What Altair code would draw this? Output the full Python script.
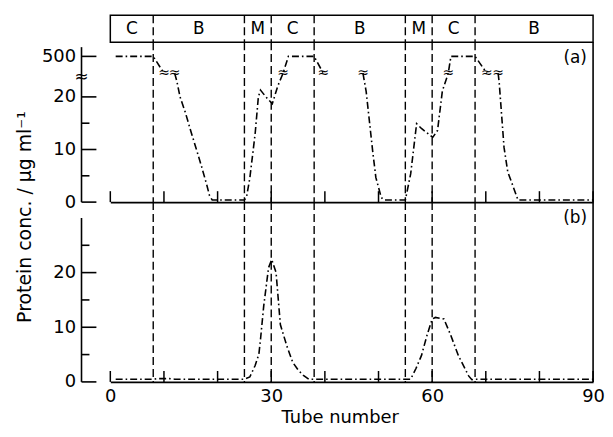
import altair as alt
import pandas as pd

FONT = "DejaVu Sans"

# ---- section map along the tube axis ----
section_labels = ["C", "B", "M", "C", "B", "M", "C", "B"]
section_start = [0, 8, 25, 30, 38, 55, 60, 68]
section_end = [8, 25, 30, 38, 55, 60, 68, 90]
boundary_tubes = [8, 25, 30, 38, 55, 60, 68]
x_tick_tubes = [0, 10, 20, 30, 40, 50, 60, 70, 80, 90]
x_label_tubes = [0, 30, 60, 90]

# ---- panel (a): 500 = top plateau, 30 = off-scale point (drawn as ≈ on the broken axis) ----
tube_a = [1, 8, 10,
          12, 12.4, 13, 14, 15, 16, 17, 18, 18.5, 19, 20, 21, 22, 23, 24, 25,
          25.4, 26, 27, 27.6, 28, 29, 30.2, 31.2, 32.2, 33.2, 38, 39.7,
          47.1, 47.7, 48.9, 49.5, 50.5, 51, 52, 53, 54, 55, 56, 57.1, 58, 59,
          60.1, 61, 61.9, 63, 63.5, 68, 70.2,
          72.3, 72.5, 73.4, 74.1, 74.8, 76, 77, 78, 79, 80, 81, 82, 83, 84,
          85, 86, 87, 88, 89, 90]
conc_a = [500, 500, 30,
          30, 23, 20, 17, 13.5, 10.2, 6.8, 3.2, 1.2, 0.4, 0.4, 0.4, 0.4, 0.4, 0.4, 0.4,
          1, 4.5, 13, 20, 21.3, 20, 18.7, 22, 30, 500, 500, 30,
          30, 21, 9.8, 4.7, 0.9, 0.4, 0.4, 0.4, 0.4, 0.4, 5.4, 14.9, 14, 13.2,
          12.3, 13.6, 21.1, 30, 500, 500, 30,
          30, 22.7, 10.4, 5.7, 3.8, 0.4, 0.4, 0.4, 0.4, 0.4, 0.4, 0.4, 0.4, 0.4,
          0.4, 0.4, 0.4, 0.4, 0.4, 0.4]
segment_a = [1, 1, 1,
             2, 2, 2, 2, 2, 2, 2, 2, 2, 2, 2, 2, 2, 2, 2, 2,
             2, 2, 2, 2, 2, 2, 2, 2, 2, 2, 2, 2,
             3, 3, 3, 3, 3, 3, 3, 3, 3, 3, 3, 3, 3, 3,
             3, 3, 3, 3, 3, 3, 3,
             4, 4, 4, 4, 4, 4, 4, 4, 4, 4, 4, 4, 4, 4,
             4, 4, 4, 4, 4, 4]

# ---- panel (b) ----
tube_b = [1, 2, 3, 4, 5, 6, 7, 8, 9, 10, 11, 12, 13, 14, 15, 16, 17, 18, 19, 20,
          21, 22, 23, 24, 25, 26, 27, 27.7, 28, 28.6, 29.5, 30.1, 30.9, 31.7, 32.9,
          34, 35, 36, 37, 38, 39, 40, 41, 42, 43, 44, 45, 46, 47, 48, 49, 50, 51,
          52, 53, 54, 55, 56, 57, 58, 59, 60, 60.6, 62.2, 63.4, 64.9, 66.8, 67.4,
          68, 69, 70, 71, 72, 73, 74, 75, 76, 77, 78, 79, 80, 81, 82, 83, 84, 85,
          86, 87, 88, 89, 90]
conc_b = [0.5, 0.5, 0.5, 0.5, 0.5, 0.5, 0.5, 0.5, 0.6, 0.6, 0.6, 0.5, 0.5, 0.5, 0.5, 0.5, 0.5, 0.5, 0.5, 0.5,
          0.5, 0.5, 0.5, 0.5, 0.5, 0.9, 3, 5.1, 7.8, 13.9, 20.9, 22.4, 20, 10.5, 6.6,
          3.6, 2.2, 1.2, 0.5, 0.5, 0.5, 0.5, 0.5, 0.5, 0.5, 0.5, 0.5, 0.5, 0.5, 0.5, 0.5, 0.5, 0.5,
          0.5, 0.5, 0.5, 0.5, 0.5, 2.5, 4.8, 8.4, 11.5, 11.8, 11.5, 8.7, 4.8, 1.1, 0.4,
          0.5, 0.5, 0.5, 0.5, 0.5, 0.5, 0.5, 0.5, 0.5, 0.5, 0.5, 0.5, 0.5, 0.5, 0.5, 0.5, 0.5, 0.5,
          0.5, 0.5, 0.5, 0.5, 0.5]

ticks_a_major = [0, 10, 20, 500]
ticks_a_minor = [5, 15]
ticks_b_major = [0, 10, 20]
ticks_b_minor = [5, 15, 25]

y_title = "Protein conc. / μg ml⁻¹"

# ---- layout constants ----
W = 486
H_HEAD = 27
H_A = 161
H_B = 181
AX_OFF = 29
BREAK_EXPR = "datum.v >= 500 ? 27.7 : (datum.v > 25 ? 24.5 : datum.v)"

df_sections = pd.DataFrame({"label": section_labels, "start": section_start, "end": section_end})
df_bound = pd.DataFrame({"x": boundary_tubes})
df_xt = pd.DataFrame({"x": x_tick_tubes})
df_a = pd.DataFrame({"x": tube_a, "v": conc_a, "seg": segment_a})
df_b = pd.DataFrame({"x": tube_b, "v": conc_b})
df_one = pd.DataFrame({"k": [0]})

xscale = alt.Scale(domain=[0, 90], nice=False, zero=False)


def xenc(axis):
    return alt.X("x:Q", scale=xscale, axis=axis)


dash_rule = dict(color="black", strokeDash=[8, 4], strokeWidth=1.4)
data_line = dict(color="black", strokeDash=[7, 3, 1.6, 3], strokeWidth=1.6)

# ---------------- header ----------------
head_text = alt.Chart(df_sections).transform_calculate(
    x="(datum.start + datum.end) / 2"
).mark_text(font=FONT, fontSize=17, color="black", baseline="middle").encode(
    x=xenc(None), y=alt.value(14), text="label:N"
)
head_rules = alt.Chart(df_bound).mark_rule(**dash_rule).encode(
    x=xenc(None), y=alt.value(0), y2=alt.value(H_HEAD)
)
header = alt.layer(head_rules, head_text).properties(
    width=W, height=H_HEAD, view=alt.ViewBackground(stroke="black", strokeWidth=1.5)
)


def panel(df_line, yscale_top, axis_values, label_expr, major, minor, axis_top_px, height,
          xaxis, tag, extra_layers, has_seg):
    yenc = alt.Y(
        "y:Q",
        scale=alt.Scale(domain=[0, yscale_top], nice=False, zero=False),
        axis=alt.Axis(values=axis_values, labelExpr=label_expr, ticks=False, tickSize=0,
                      domain=False, grid=False, offset=AX_OFF, labelPadding=6,
                      labelFontSize=18, labelFont=FONT, labelColor="black",
                      labelFlush=False, title=None),
    )
    bounds = alt.Chart(df_bound).mark_rule(**dash_rule).encode(
        x=xenc(xaxis), y=alt.value(0), y2=alt.value(height)
    )
    xt = alt.Chart(df_xt).mark_rule(color="black", strokeWidth=1.5).encode(
        x=xenc(xaxis), y=alt.value(height - 11), y2=alt.value(height)
    )
    ydom = alt.Chart(df_one).mark_rule(color="black", strokeWidth=1.6).encode(
        x=alt.value(-AX_OFF), y=alt.value(axis_top_px), y2=alt.value(height)
    )
    ymaj = alt.Chart(pd.DataFrame({"v": major})).transform_calculate(y=BREAK_EXPR).mark_rule(
        color="black", strokeWidth=1.6
    ).encode(y=yenc, x=alt.value(-AX_OFF), x2=alt.value(-AX_OFF + 15))
    ymin = alt.Chart(pd.DataFrame({"v": minor})).transform_calculate(y=BREAK_EXPR).mark_rule(
        color="black", strokeWidth=1.6
    ).encode(y=yenc, x=alt.value(-AX_OFF), x2=alt.value(-AX_OFF + 8))
    border = alt.Chart(df_one).mark_rule(color="black", strokeWidth=1.6).encode(
        x=alt.value(W), y=alt.value(0), y2=alt.value(height)
    )
    enc = dict(x=xenc(xaxis), y=yenc)
    if has_seg:
        enc["detail"] = "seg:N"
    line = alt.Chart(df_line).transform_calculate(y=BREAK_EXPR).mark_line(**data_line).encode(**enc)
    tag_text = alt.Chart(pd.DataFrame({"t": [tag]})).mark_text(
        font=FONT, fontSize=17, color="black", align="center", baseline="middle"
    ).encode(text="t:N", x=alt.value(468), y=alt.value(16))
    layers = [bounds, xt, ydom, ymaj, ymin, border, line, tag_text] + extra_layers(yenc, xaxis)
    return alt.layer(*layers).properties(
        width=W, height=height, view=alt.ViewBackground(stroke="transparent")
    )


def extras_a(yenc, xaxis):
    brk = alt.Chart(df_a).transform_filter("datum.v > 25 && datum.v < 500").transform_calculate(
        y=BREAK_EXPR
    ).mark_text(text="≈", font=FONT, fontSize=14, color="black", baseline="middle").encode(
        x=xenc(xaxis), y=yenc
    )
    axis_brk = alt.Chart(df_one).mark_text(
        text="≈", font=FONT, fontSize=17, color="black", baseline="middle"
    ).encode(x=alt.value(-AX_OFF), y=alt.value(35))
    title = alt.Chart(pd.DataFrame({"t": [y_title]})).mark_text(
        font=FONT, fontSize=19, color="black", angle=270, align="center", baseline="middle"
    ).encode(text="t:N", x=alt.value(-86), y=alt.value(176))
    return [brk, axis_brk, title]


def extras_b(yenc, xaxis):
    return []


xaxis_a = alt.Axis(labels=False, ticks=False, domain=True, domainColor="black",
                   domainWidth=1.6, grid=False, title=None)
xaxis_b = alt.Axis(values=x_label_tubes, ticks=False, domain=True, domainColor="black",
                   domainWidth=1.6, grid=False, labelFontSize=18, labelFont=FONT,
                   labelColor="black", labelPadding=6, labelFlush=False,
                   title="Tube number", titleFont=FONT, titleFontSize=18,
                   titleFontWeight="normal", titleColor="black", titlePadding=3,
                   titleX=231)

panel_a = panel(df_a, 30.4, [0, 10, 20, 27.7],
                "datum.value > 25 ? '500' : datum.label",
                ticks_a_major, ticks_a_minor, 5, H_A, xaxis_a, "(a)", extras_a, True)
panel_b = panel(df_b, 32.9, [0, 10, 20], "datum.label",
                ticks_b_major, ticks_b_minor, 16, H_B, xaxis_b, "(b)", extras_b, False)

chart = alt.vconcat(header, panel_a, panel_b, spacing=0, bounds="flush").properties(
    padding={"left": 7, "top": 4, "right": 0, "bottom": 0},
    background="white",
)

chart.save("out.html", embed_options={"renderer": "svg", "actions": False})
